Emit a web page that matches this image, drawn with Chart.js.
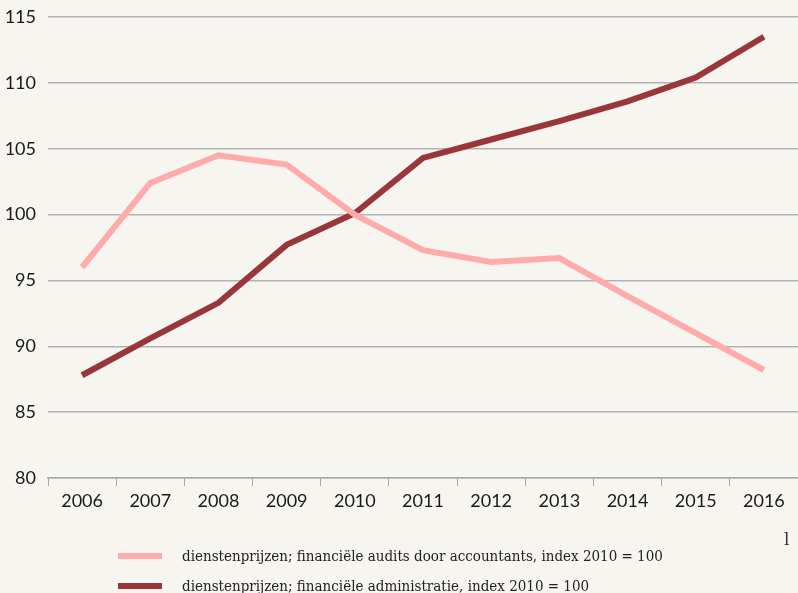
<!DOCTYPE html>
<html>
<head>
<meta charset="utf-8">
<script src="https://cdn.jsdelivr.net/npm/chart.js@4"></script>
<style>
    body { margin: 0; background: #f7f5ef; }
    #wrap { position: relative; width: 798px; height: 593px; }
    #legend { position: absolute; left: 118px; top: 541px; font-family: "DejaVu Serif Condensed", "DejaVu Serif", serif; font-size: 15px; color: #222; }
    .item { height: 30px; display: flex; align-items: center; }
    .swatch { width: 44px; height: 6px; margin-right: 20px; }
    #cut { position: absolute; left: 784px; top: 529px; font-family: "DejaVu Serif", serif; font-size: 17px; color: #333; }
</style>
</head>
<body>
<div id="wrap">
    <canvas id="myChart" width="798" height="593"></canvas>
    <div id="legend"></div>
    <div id="cut">l</div>
</div>
<script>
const years = ['2006', '2007', '2008', '2009', '2010', '2011', '2012', '2013', '2014', '2015', '2016'];
const audits = [96.0, 102.4, 104.5, 103.8, 100.0, 97.3, 96.4, 96.7, 93.8, 91.0, 88.2];
const administratie = [87.8, 90.6, 93.3, 97.7, 100.1, 104.3, 105.7, 107.1, 108.6, 110.4, 113.5];
const yTicks = [80, 85, 90, 95, 100, 105, 110, 115];

const labelAudits = 'dienstenprijzen; financiële audits door accountants, index 2010 = 100';
const labelAdmin = 'dienstenprijzen; financiële administratie, index 2010 = 100';

var ctx = document.getElementById('myChart');
var chart = new Chart(ctx, {
    type: 'line',
    data: {
        labels: years,
        datasets: [
            {
                label: labelAudits,
                data: audits,
                borderColor: '#ffabab',
                borderWidth: 6,
                pointRadius: 0,
                tension: 0,
                fill: false
            },
            {
                label: labelAdmin,
                data: administratie,
                borderColor: '#993639',
                borderWidth: 6,
                pointRadius: 0,
                tension: 0,
                fill: false
            }
        ]
    },
    options: {
        responsive: false,
        animation: false,
        layout: { padding: { top: 17, right: 0, bottom: 0, left: 0 } },
        scales: {
            x: {
                offset: true,
                grid: {
                    offset: true,
                    drawOnChartArea: false,
                    drawTicks: true,
                    tickLength: 8,
                    color: '#a8a8a8'
                },
                border: { display: true, color: '#a8a8a8', width: 1.5 },
                ticks: {
                    color: '#1a1a1a',
                    padding: 4,
                    font: { family: 'Lato', size: 18 }
                },
                afterFit: function (scale) {
                    scale.height = 115;
                    scale.paddingLeft = 0;
                    scale.paddingRight = 0;
                }
            },
            y: {
                min: 80,
                max: 115,
                afterBuildTicks: function (scale) {
                    scale.ticks = yTicks.map(v => ({ value: v }));
                },
                grid: {
                    drawTicks: false,
                    color: '#b3b3b3',
                    lineWidth: 1.5
                },
                border: { display: false },
                ticks: {
                    color: '#1a1a1a',
                    padding: 12,
                    font: { family: 'Lato', size: 18 }
                },
                afterFit: function (scale) {
                    scale.width = 48;
                    scale.paddingTop = 0;
                    scale.paddingBottom = 0;
                }
            }
        },
        plugins: {
            legend: { display: false },
            tooltip: { enabled: false }
        }
    }
});

// html legend
let legendHtml = '';
chart.data.datasets.forEach(ds => {
    legendHtml += `<div class='item'><span class='swatch' style='background:${ds.borderColor}'></span>${ds.label}</div>`;
});
document.getElementById('legend').innerHTML = legendHtml;
</script>
</body>
</html>
